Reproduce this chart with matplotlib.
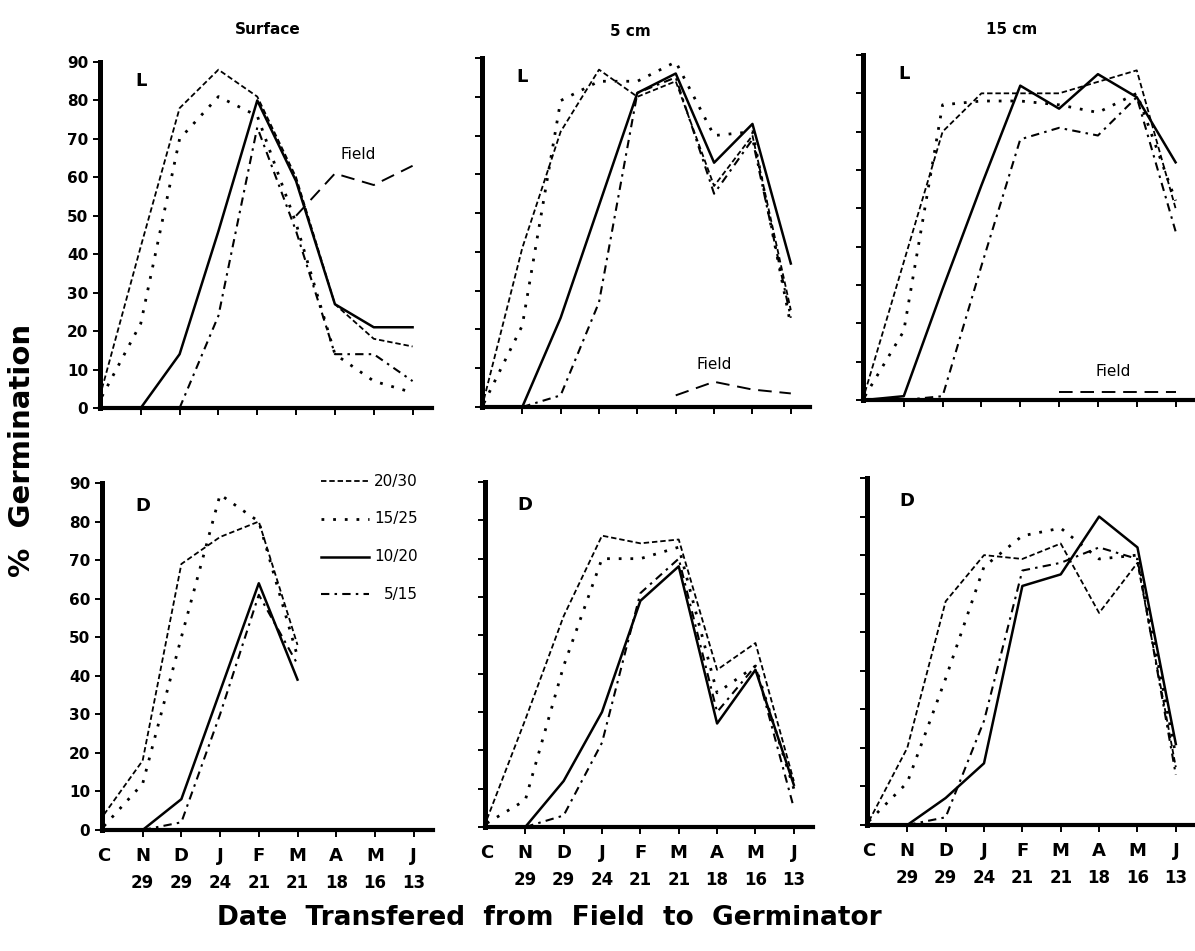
import numpy as np
import matplotlib
matplotlib.use("Agg")
import matplotlib.pyplot as plt

nan = np.nan

# x categories (date transfered from field to germinator)
dates = ['C', 'N\n29', 'D\n29', 'J\n24', 'F\n21', 'M\n21', 'A\n18', 'M\n16', 'J\n13']
regimes = ['20/30', '15/25', '10/20', '5/15']
depths = ['Surface', '5 cm', '15 cm']

# % germination, light (L)
surf_L_2030 = [5, 42, 78, 88, 81, 60, 27, 18, 16]
surf_L_1525 = [3, 22, 70, 81, 76, 48, 14, 7, 4]
surf_L_1020 = [0, 0, 14, 46, 80, 59, 27, 21, 21]
surf_L_515 = [nan, nan, 0, 24, 73, 46, 14, 14, 7]
surf_L_field = [nan, nan, nan, nan, nan, 50, 61, 58, 63]

cm5_L_2030 = [2, 41, 71, 87, 80, 84, 57, 70, 25]
cm5_L_1525 = [1, 21, 79, 84, 84, 89, 70, 71, 21]
cm5_L_1020 = [0, 0, 23, 52, 81, 86, 63, 73, 37]
cm5_L_515 = [nan, 0, 3, 27, 81, 85, 55, 69, 23]
cm5_L_field = [nan, nan, nan, nan, nan, 3, 6.5, 4.5, 3.5]

cm15_L_2030 = [2, 36, 70, 80, 80, 80, 83, 86, 50]
cm15_L_1525 = [1, 18, 77, 78, 78, 77, 75, 80, 52]
cm15_L_1020 = [0, 1, 29, 56, 82, 76, 85, 79, 62]
cm15_L_515 = [nan, 0, 1, 35, 68, 71, 69, 79, 44]
cm15_L_field = [nan, nan, nan, nan, nan, 2, 2, 2, 2]

# % germination, dark (D)
surf_D_2030 = [4, 18, 69, 76, 80, 48, nan, nan, nan]
surf_D_1525 = [1, 12, 50, 87, 80, 45, nan, nan, nan]
surf_D_1020 = [0, 0, 8, 36, 64, 39, nan, nan, nan]
surf_D_515 = [nan, 0, 2, 30, 61, 43, nan, nan, nan]

cm5_D_2030 = [2, 28, 55, 76, 74, 75, 41, 48, 12]
cm5_D_1525 = [1, 7, 42, 70, 70, 73, 35, 42, 10]
cm5_D_1020 = [0, 0, 12, 30, 59, 68, 27, 41, 11]
cm5_D_515 = [nan, 0, 3, 22, 61, 70, 30, 42, 5]

cm15_D_2030 = [1, 20, 58, 70, 69, 73, 55, 68, 15]
cm15_D_1525 = [1, 11, 38, 67, 75, 77, 69, 70, 18]
cm15_D_1020 = [0, 0, 7, 16, 62, 65, 80, 72, 21]
cm15_D_515 = [nan, 0, 2, 27, 66, 68, 72, 69, 13]

light = [
    (surf_L_2030, surf_L_1525, surf_L_1020, surf_L_515, surf_L_field),
    (cm5_L_2030, cm5_L_1525, cm5_L_1020, cm5_L_515, cm5_L_field),
    (cm15_L_2030, cm15_L_1525, cm15_L_1020, cm15_L_515, cm15_L_field),
]
dark = [
    (surf_D_2030, surf_D_1525, surf_D_1020, surf_D_515),
    (cm5_D_2030, cm5_D_1525, cm5_D_1020, cm5_D_515),
    (cm15_D_2030, cm15_D_1525, cm15_D_1020, cm15_D_515),
]

styles = [
    dict(ls=(0, (3, 1.6)), lw=1.3),
    dict(ls=(0, (1, 3.2)), lw=2.0),
    dict(ls='-', lw=1.8),
    dict(ls=(0, (4, 2.5, 1.2, 2.5)), lw=1.5),
]
field_style = dict(ls=(0, (7, 4)), lw=1.4)

W, H = 1195, 951
fig = plt.figure(figsize=(W / 100, H / 100), dpi=100)

# panel boxes in pixels: left, right, top(90), bottom(0)
boxes_top = [(100, 432, 62, 408), (482, 810, 58, 407), (863, 1195, 55, 400)]
boxes_bot = [(102, 433, 483, 830), (485, 813, 482, 827), (867, 1195, 478, 825)]
title_pos = [(268, 30), (630, 32), (1012, 30)]
field_pos = [(6.6, 66), (6.0, 11), (6.4, 7.5)]

x = np.arange(len(dates))


def make_ax(box, col, bottom_row):
    l, r, t, b = box
    ax = fig.add_axes([l / W, 1 - b / H, (r - l) / W, (b - t) / H])
    ax.set_xlim(-0.05, 8.5)
    ax.set_ylim(0, 90)
    for s in ['top', 'right']:
        ax.spines[s].set_visible(False)
    ax.spines['left'].set_linewidth(3.6)
    ax.spines['bottom'].set_linewidth(3.0)
    ax.set_yticks(range(0, 91, 10))
    ax.set_xticks(x[1:])
    ax.tick_params(axis='both', direction='out', length=5, width=1.4)
    if col == 0:
        ax.set_yticklabels([str(v) for v in range(0, 91, 10)],
                           fontsize=11, fontweight='bold')
    else:
        ax.set_yticklabels([])
    ax.set_xticklabels([])
    if bottom_row:
        for xi, lab in zip(x, dates):
            parts = lab.split('\n')
            ax.text(xi, -4.5, parts[0], ha='center', va='top',
                    fontsize=13, fontweight='bold', clip_on=False)
            if len(parts) > 1:
                ax.text(xi, -11.5, parts[1], ha='center', va='top',
                        fontsize=12, fontweight='bold', clip_on=False)
    return ax


for col in range(3):
    ax = make_ax(boxes_top[col], col, False)
    series = light[col]
    for vals, st in zip(series[:4], styles):
        ax.plot(x, vals, color='black', clip_on=False, **st)
    ax.plot(x, series[4], color='black', clip_on=False, **field_style)
    ax.text(1.0, 85, 'L', fontsize=13, fontweight='bold', ha='center', va='center')
    ax.text(*field_pos[col], 'Field', fontsize=11, ha='center', va='center')
    tx, ty = title_pos[col]
    fig.text(tx / W, 1 - ty / H, depths[col], fontsize=11, fontweight='bold',
             ha='center', va='center')

for col in range(3):
    ax = make_ax(boxes_bot[col], col, True)
    for vals, st in zip(dark[col], styles):
        ax.plot(x, vals, color='black', clip_on=False, **st)
    ax.text(1.0, 84, 'D', fontsize=13, fontweight='bold', ha='center', va='center')
    if col == 0:
        # legend drawn as small samples at upper right
        for i, (reg, st) in enumerate(zip(regimes, styles)):
            yy = 90.5 - i * 9.8
            ax.plot([5.6, 6.85], [yy, yy], color='black', clip_on=False, **st)
            ax.text(8.1, yy, reg, fontsize=11, ha='right', va='center')

fig.text(0.018, 1 - 450 / H, '%  Germination', rotation=90, fontsize=21,
         fontweight='bold', ha='center', va='center')
fig.text(0.46, 0.035, 'Date  Transfered  from  Field  to  Germinator',
         fontsize=19, fontweight='bold', ha='center', va='center')

fig.savefig('out.png', dpi=100)
